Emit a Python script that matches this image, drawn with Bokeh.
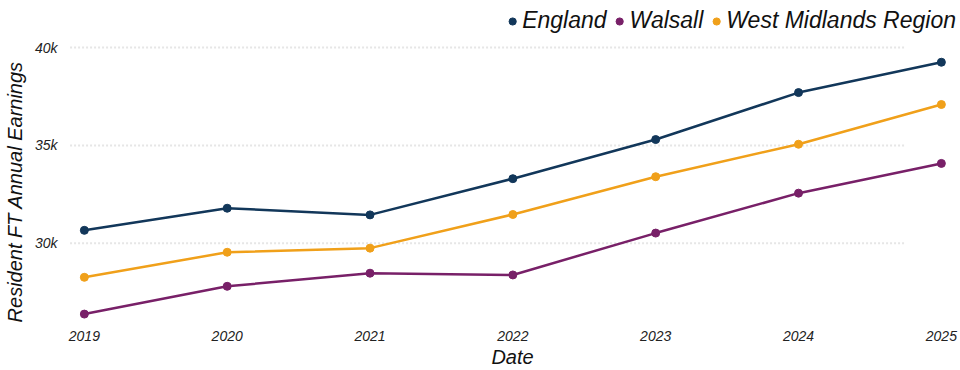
from bokeh.plotting import figure
from bokeh.models import ColumnDataSource, Legend, LegendItem, FixedTicker, Range1d
from bokeh.embed import file_html
from bokeh.resources import INLINE

years = [2019, 2020, 2021, 2022, 2023, 2024, 2025]
england = [30660, 31790, 31450, 33300, 35300, 37700, 39250]
walsall = [26380, 27800, 28470, 28380, 30520, 32560, 34080]
west_midlands = [28260, 29540, 29750, 31470, 33400, 35060, 37090]
series_names = ["England", "Walsall", "West Midlands Region"]
colors = ["#12375a", "#782068", "#f0a01a"]
y_ticks = [30000, 35000, 40000]
y_tick_labels = ["30k", "35k", "40k"]

FONT = "Liberation Sans"

p = figure(width=960, height=370, output_backend="svg", toolbar_location=None,
           x_range=Range1d(2018.875, 2025.12), y_range=Range1d(25950, 42150))
p.outline_line_color = None
p.background_fill_color = "white"
p.border_fill_color = "white"
p.min_border_left = 10
p.min_border_right = 2
p.min_border_top = 5
p.min_border_bottom = 5

# grid lines (dotted, not full width)
p.xgrid.visible = False
p.ygrid.visible = False
p.segment(x0=[2018.9] * len(y_ticks), x1=[2024.74] * len(y_ticks), y0=y_ticks, y1=y_ticks,
          line_color="#e6e6e6", line_width=2, line_dash="2 2")

items = []
for name, vals, c in zip(series_names, [england, walsall, west_midlands], colors):
    src = ColumnDataSource(dict(x=years, y=vals))
    l = p.line("x", "y", source=src, line_color=c, line_width=2.5)
    s = p.scatter("x", "y", source=src, size=8, fill_color=c, line_color=c)
    items.append(LegendItem(label=name, renderers=[s]))

legend = Legend(items=items, orientation="horizontal", location="top_right")
legend.label_text_font = FONT
legend.label_text_font_style = "italic"
legend.label_text_font_size = "23px"
legend.label_text_color = "#111111"
legend.glyph_width = 18
legend.glyph_height = 18
legend.label_standoff = 1
legend.spacing = 4
legend.padding = 0
legend.margin = 2
legend.border_line_color = None
legend.background_fill_alpha = 0
p.add_layout(legend)

# axes
for ax in (p.xaxis[0], p.yaxis[0]):
    ax.axis_line_color = None
    ax.major_tick_line_color = None
    ax.minor_tick_line_color = None
    ax.major_label_text_font = FONT
    ax.major_label_text_font_style = "italic"
    ax.major_label_text_font_size = "14px"
    ax.major_label_text_color = "#222222"
    ax.axis_label_text_font = FONT
    ax.axis_label_text_font_style = "italic"
    ax.axis_label_text_font_size = "20px"
    ax.axis_label_text_color = "#111111"

p.xaxis.ticker = FixedTicker(ticks=years)
p.xaxis.axis_label = "Date"
p.xaxis.major_label_standoff = 2
p.xaxis.axis_label_standoff = 2

p.yaxis.ticker = FixedTicker(ticks=y_ticks)
p.yaxis.major_label_overrides = {t: lab for t, lab in zip(y_ticks, y_tick_labels)}
p.yaxis.axis_label = "Resident FT Annual Earnings" + "\u00a0" * 10
p.yaxis.major_label_standoff = 3
p.yaxis.axis_label_standoff = 6

open("out.html", "w").write(file_html(p, INLINE))
